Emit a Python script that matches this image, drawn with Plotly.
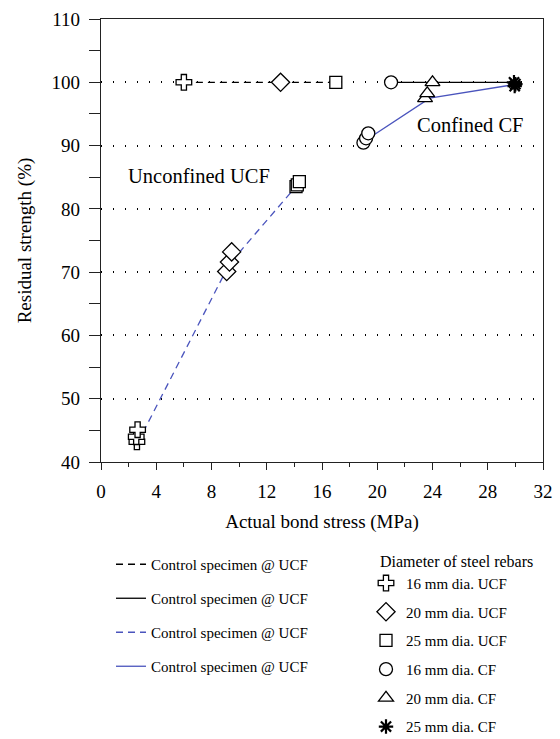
import plotly.graph_objects as go

# ---------------- data ----------------
# control specimen lines
ctrl_ucf_x = [6.0, 13.0, 17.0]
ctrl_ucf_y = [100.0, 100.0, 100.0]
ctrl_cf_x = [21.0, 24.0, 30.0]
ctrl_cf_y = [100.0, 100.0, 100.0]
# trend lines through the test specimens
ucf_fit_x = [2.65, 9.3, 14.3]
ucf_fit_y = [43.0, 71.3, 84.0]
cf_fit_x = [19.0, 23.8, 30.1]
cf_fit_y = [90.6, 97.5, 99.7]

# specimen markers
d16_ucf_x = [6.0, 2.6, 2.55, 2.65]
d16_ucf_y = [100.0, 43.2, 44.0, 45.1]
d20_ucf_x = [13.0, 9.1, 9.3, 9.46]
d20_ucf_y = [100.0, 70.1, 71.6, 73.2]
d25_ucf_x = [17.0, 14.12, 14.21, 14.36]
d25_ucf_y = [100.0, 83.5, 83.8, 84.3]
d16_cf_x = [21.0, 19.0, 19.19, 19.35]
d16_cf_y = [100.0, 90.45, 91.15, 91.94]
d20_cf_x = [24.0, 23.46, 23.62]
d20_cf_y = [100.0, 97.47, 98.26]
d25_cf_x = [29.95, 30.0, 29.9]
d25_cf_y = [99.4, 99.7, 100.0]

line_names = ["Control specimen @ UCF"] * 4
marker_names = ["16 mm dia. UCF", "20 mm dia. UCF", "25 mm dia. UCF",
                "16 mm dia. CF", "20 mm dia. CF", "25 mm dia. CF"]

x_ticks = [0, 4, 8, 12, 16, 20, 24, 28, 32]
y_ticks = [40, 50, 60, 70, 80, 90, 100, 110]

FONT = "Liberation Serif, Times New Roman, serif"
BLUE = "#4a54bd"

# plot area in pixels (used only for legend placement)
L, R, T, B = 101, 543, 19, 462
W, H = 560, 739


def px_x(p):
    return (p - L) / (R - L)


def px_y(p):
    return (B - p) / (B - T)


fig = go.Figure()

line_specs = [
    (ctrl_ucf_x, ctrl_ucf_y, "black", "7px,5px"),
    (ctrl_cf_x, ctrl_cf_y, "black", "solid"),
    (ucf_fit_x, ucf_fit_y, BLUE, "7px,5px"),
    (cf_fit_x, cf_fit_y, BLUE, "solid"),
]
for i, (xs, ys, col, dash) in enumerate(line_specs):
    fig.add_trace(go.Scatter(
        x=xs, y=ys, mode="lines", name=line_names[i],
        line=dict(color=col, width=1.3, dash=dash),
        legend="legend", legendgroup=f"l{i}",
    ))

marker_specs = [
    (d16_ucf_x, d16_ucf_y, "cross", 13),
    (d20_ucf_x, d20_ucf_y, "diamond", 14),
    (d25_ucf_x, d25_ucf_y, "square", 12),
    (d16_cf_x, d16_cf_y, "circle", 13),
    (d20_cf_x, d20_cf_y, "triangle-up", 13),
    (d25_cf_x, d25_cf_y, "asterisk-open", 12),
]
for i, (xs, ys, sym, sz) in enumerate(marker_specs):
    is_open = "open" in sym
    fig.add_trace(go.Scatter(
        x=xs, y=ys, mode="markers", name=marker_names[i],
        marker=dict(symbol=sym, size=sz, color="black" if is_open else "white",
                    line=dict(color="black", width=2.2 if is_open else 1.3)),
        legend="legend2", legendgroup=f"m{i}",
    ))

fig.add_annotation(x=7.13, y=85.2, text="Unconfined UCF", showarrow=False,
                   font=dict(family=FONT, size=20.5, color="black"))
fig.add_annotation(x=26.75, y=93.25, text="Confined CF", showarrow=False,
                   font=dict(family=FONT, size=20.5, color="black"))

fig.update_layout(
    width=W, height=H,
    margin=dict(l=L, r=W - R, t=T, b=H - B, autoexpand=False),
    paper_bgcolor="white", plot_bgcolor="white",
    font=dict(family=FONT, size=19, color="black"),
    xaxis=dict(
        range=[0, 32], tickvals=x_ticks, ticktext=[str(v) for v in x_ticks],
        showline=True, linecolor="#222", linewidth=1.3, mirror=True,
        ticks="outside", ticklen=7, tickwidth=1.3, tickcolor="#222",
        minor=dict(dtick=2, ticks="outside", ticklen=4, tickwidth=1.3, tickcolor="#222"),
        showgrid=False, zeroline=False,
        ticklabelstandoff=5,
        title=dict(text="Actual bond stress (MPa)", font=dict(size=19), standoff=13),
        automargin=False,
    ),
    yaxis=dict(
        range=[40, 110], tickvals=y_ticks, ticktext=[str(v) for v in y_ticks],
        showline=True, linecolor="#222", linewidth=1.3, mirror=True,
        ticks="outside", ticklen=11, tickwidth=1.3, tickcolor="#222",
        minor=dict(dtick=5, ticks="outside", ticklen=11, tickwidth=1.3, tickcolor="#222", showgrid=False),
        showgrid=True, gridcolor="black", gridwidth=1.6, griddash="1px,11px",
        zeroline=False,
        ticklabelstandoff=5,
        title=dict(text="Residual strength (%)", font=dict(size=19), standoff=14),
        automargin=False,
    ),
    legend=dict(
        x=px_x(111), y=px_y(548),
        xanchor="left", yanchor="top", font=dict(family=FONT, size=15),
        tracegroupgap=11.5, bgcolor="rgba(0,0,0,0)", itemwidth=30,
    ),
    legend2=dict(
        x=px_x(366), y=px_y(546),
        xanchor="left", yanchor="top", font=dict(family=FONT, size=15),
        title=dict(text="\u00a0\u00a0\u00a0Diameter of steel rebars", font=dict(family=FONT, size=16)),
        tracegroupgap=6.2, bgcolor="rgba(0,0,0,0)", itemwidth=30,
    ),
    showlegend=True,
)

fig.write_html("out.html")
